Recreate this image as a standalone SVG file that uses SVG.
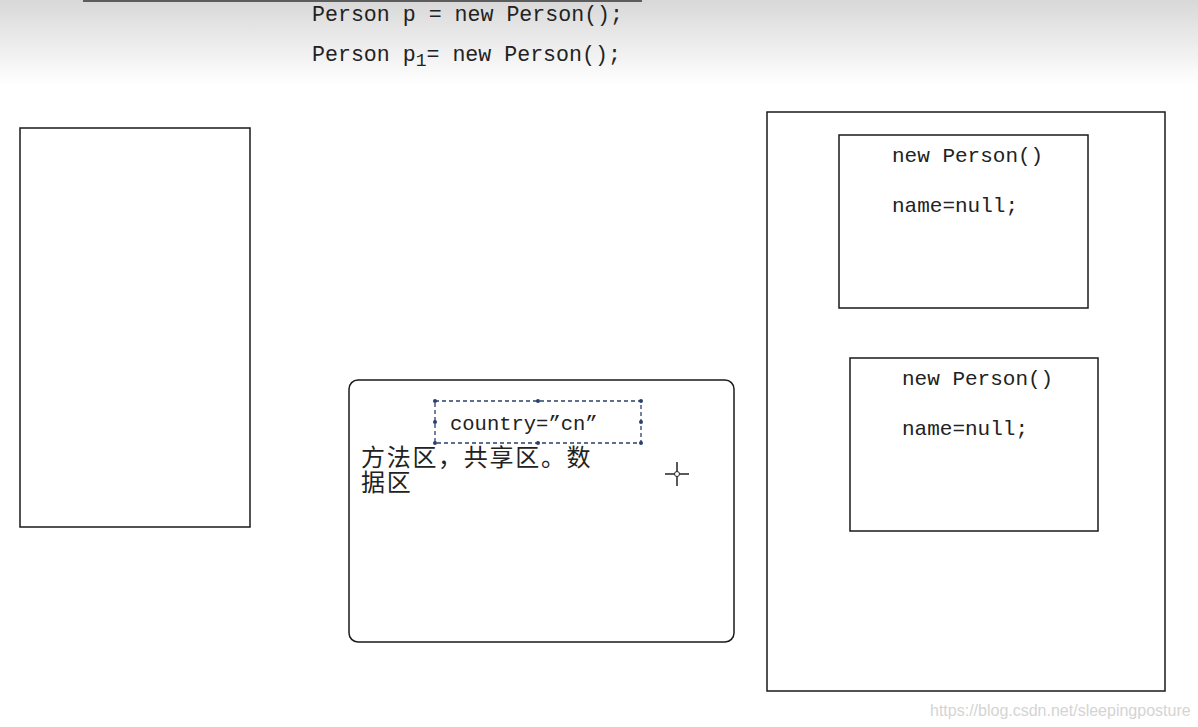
<svg xmlns="http://www.w3.org/2000/svg" width="1198" height="727" viewBox="0 0 1198 727">
<defs>
<linearGradient id="topShade" x1="0" y1="0" x2="0" y2="1">
<stop offset="0" stop-color="#d8d8d8"/>
<stop offset="1" stop-color="#ffffff"/>
</linearGradient>
</defs>
<style>
.box{fill:none;stroke:#1a1a1a;stroke-width:1.5}
.code{font-family:"Liberation Mono",monospace;font-size:21px;fill:#222}
.top{font-size:21.6px}
.cjk{font-family:"Noto Sans CJK SC",sans-serif;font-size:24px;letter-spacing:1.7px;fill:#222}
.handle{fill:#2a3f6b}
</style>
<rect x="0" y="0" width="1198" height="727" fill="#ffffff"/>
<rect x="0" y="0" width="1198" height="85" fill="url(#topShade)"/>
<line x1="83" y1="1" x2="642" y2="1" stroke="#333" stroke-width="1.5"/>
<g id="code">
<text class="code top" x="312" y="21">Person p = new Person();</text>
<text class="code top" x="312" y="61">Person p<tspan style="font-size:18px" dy="5">1</tspan><tspan dy="-5">= new Person();</tspan></text>
</g>
<g id="stack">
<rect class="box" x="20" y="128" width="230" height="399"/>
</g>
<g id="method-area">
<rect class="box" x="349" y="380" width="385" height="262" rx="9"/>
<rect x="435" y="401" width="206" height="42" fill="none" stroke="#2a3f6b" stroke-width="1.3" stroke-dasharray="4,3"/>
<g class="handle">
<circle cx="435" cy="401" r="2"/><circle cx="538" cy="401" r="2"/><circle cx="641" cy="401" r="2"/>
<circle cx="435" cy="422" r="2"/><circle cx="641" cy="422" r="2"/>
<circle cx="435" cy="443" r="2"/><circle cx="538" cy="443" r="2"/><circle cx="641" cy="443" r="2"/>
</g>
<text class="code" x="450" y="430" style="font-size:20.5px">country=”cn”</text>
<text class="cjk" x="361" y="466">方法区，共享区。数<tspan x="361" dy="25">据区</tspan></text>
<g stroke="#222" stroke-width="1.5">
<line x1="665" y1="474" x2="689" y2="474"/>
<line x1="677" y1="462" x2="677" y2="486"/>
</g>
<circle cx="677" cy="474" r="2.5" fill="#fff" stroke="#222"/>
</g>
<g id="heap">
<rect class="box" x="767" y="112" width="398" height="579"/>
</g>
<g id="obj1">
<rect class="box" x="839" y="135" width="249" height="173"/>
<text class="code" x="892" y="162">new Person()</text>
<text class="code" x="892" y="212">name=null;</text>
</g>
<g id="obj2">
<rect class="box" x="850" y="358" width="248" height="173"/>
<text class="code" x="902" y="385">new Person()</text>
<text class="code" x="902" y="435">name=null;</text>
</g>
<g id="connectors"></g>
<text x="930" y="716" font-family="Liberation Sans, sans-serif" font-size="16" fill="#d4d4d4">https://blog.csdn.net/sleepingposture</text>
</svg>
